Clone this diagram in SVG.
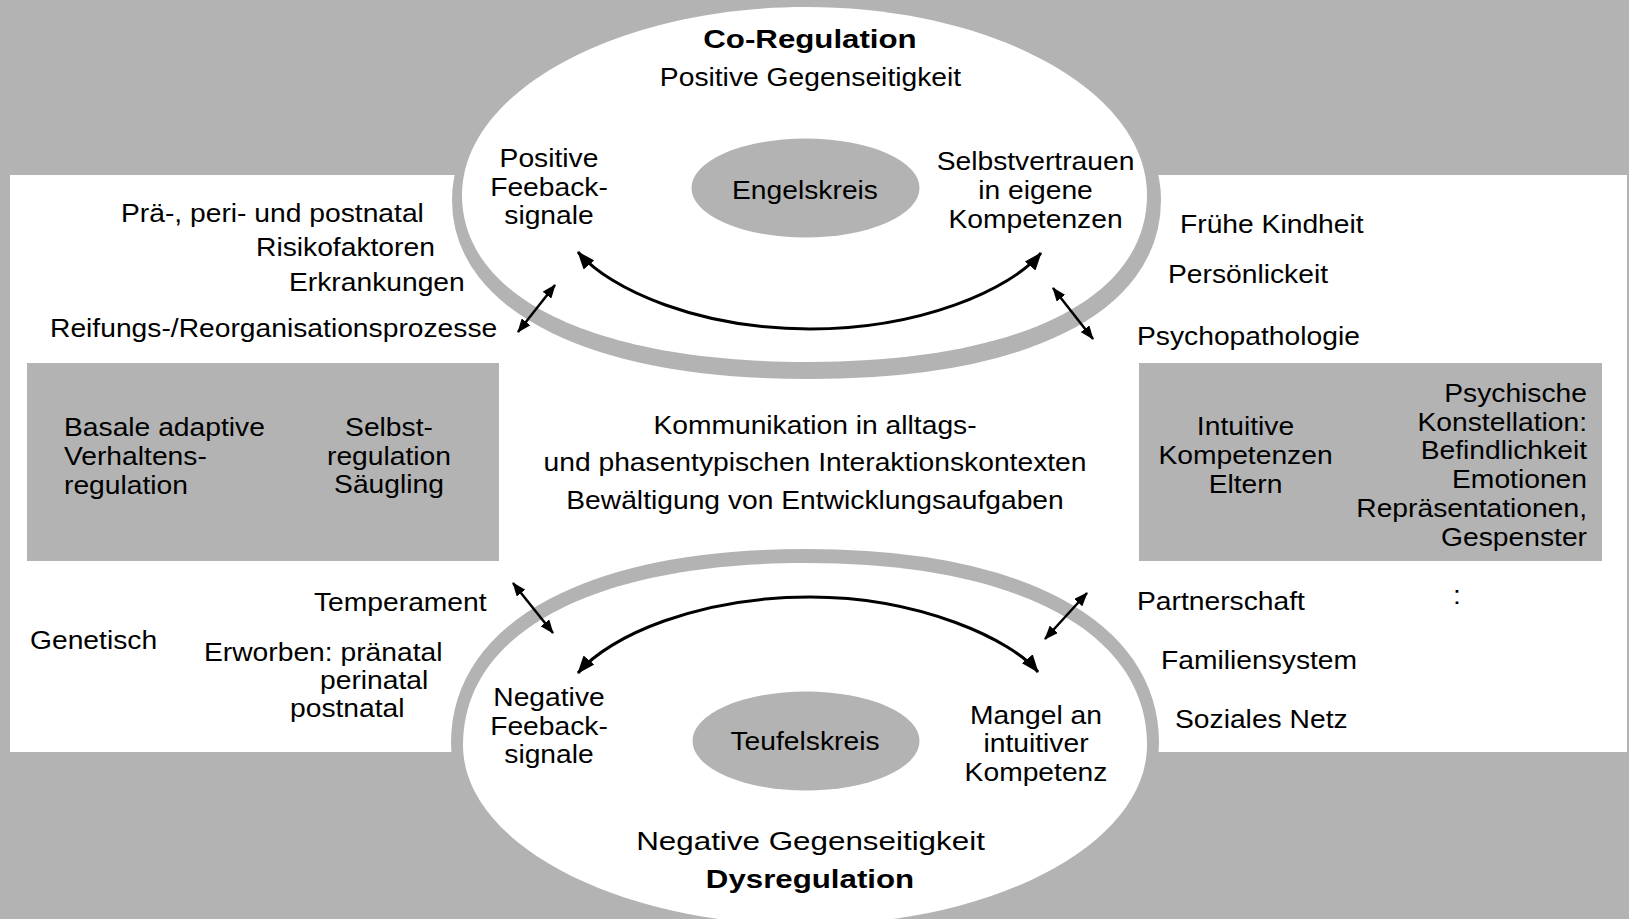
<svg xmlns="http://www.w3.org/2000/svg" xmlns:xlink="http://www.w3.org/1999/xlink" width="1629" height="919" viewBox="0 0 1629 919">
<style>
.t{font-family:"Liberation Sans",Arial,sans-serif;font-size:25px;fill:#000}
.b{font-weight:bold}
.shadow{fill:#b3b3b3;stroke:#b3b3b3;stroke-width:24}
.white{fill:#fff}
.gray{fill:#b3b3b3}
.conn{fill:none;stroke:#000}
</style>
<defs>
<path id="upShape" d="M806,7 C994,7 1147,91 1147,195 C1147,298.5 1020,362 808,362 C596,362 462,298.5 462,195 C462,91 618,7 806,7 Z"/>
<path id="lowShape" d="M806,563 C1018,563 1147,632 1147,745 C1147,844 994,925 806,925 C618,925 463,844 463,745 C463,632 594,563 806,563 Z"/>
<marker id="ah" viewBox="0 0 18 14" markerWidth="18" markerHeight="14" refX="17" refY="7" orient="auto-start-reverse" markerUnits="userSpaceOnUse"><path d="M0,0 L18,7 L0,14 z"/></marker>
<marker id="ahs" viewBox="0 0 14 11" markerWidth="14" markerHeight="11" refX="13" refY="5.5" orient="auto-start-reverse" markerUnits="userSpaceOnUse"><path d="M0,0 L14,5.5 L0,11 z"/></marker>
</defs>
<g id="background">
<rect width="1629" height="919" class="gray"/>
<rect x="10" y="175" width="1617" height="577" fill="#fff"/>
</g>
<g id="left-box">
<rect x="27" y="363" width="472" height="198" class="gray"/>
<text class="t" transform="translate(64 436) scale(1.13 1)"><tspan x="0" y="0">Basale adaptive</tspan><tspan x="0" y="29">Verhaltens-</tspan><tspan x="0" y="58">regulation</tspan></text>
<text class="t" text-anchor="middle" transform="translate(389 436) scale(1.13 1)"><tspan x="0" y="0">Selbst-</tspan><tspan x="0" y="29">regulation</tspan><tspan x="0" y="57">Säugling</tspan></text>
</g>
<g id="right-box">
<rect x="1139" y="363" width="463" height="198" class="gray"/>
<text class="t" text-anchor="middle" transform="translate(1245.5 435) scale(1.13 1)"><tspan x="0" y="0">Intuitive</tspan><tspan x="0" y="29">Kompetenzen</tspan><tspan x="0" y="58">Eltern</tspan></text>
<text class="t" text-anchor="end" transform="translate(1587 402) scale(1.13 1)"><tspan x="0" y="0">Psychische</tspan><tspan x="0" y="29">Konstellation:</tspan><tspan x="0" y="57">Befindlichkeit</tspan><tspan x="0" y="86">Emotionen</tspan><tspan x="0" y="115">Repräsentationen,</tspan><tspan x="0" y="144">Gespenster</tspan></text>
</g>
<g id="co-regulation">
<use xlink:href="#upShape" href="#upShape" class="shadow" transform="translate(2 5)"/>
<use xlink:href="#upShape" href="#upShape" class="white"/>
<text class="t b" text-anchor="middle" transform="translate(810 48) scale(1.25 1)">Co-Regulation</text>
<text class="t" text-anchor="middle" transform="translate(810.5 86) scale(1.13 1)">Positive Gegenseitigkeit</text>
</g>
<g id="dysregulation">
<use xlink:href="#lowShape" href="#lowShape" class="shadow" transform="translate(0 -2)"/>
<use xlink:href="#lowShape" href="#lowShape" class="white"/>
<text class="t" text-anchor="middle" transform="translate(810.5 850) scale(1.255 1)">Negative Gegenseitigkeit</text>
<text class="t b" text-anchor="middle" transform="translate(810 888) scale(1.25 1)">Dysregulation</text>
</g>
<g id="engelskreis">
<ellipse cx="805.5" cy="188" rx="114" ry="49.5" class="gray"/>
<text class="t" text-anchor="middle" transform="translate(805 199) scale(1.13 1)">Engelskreis</text>
</g>
<g id="teufelskreis">
<ellipse cx="806" cy="741" rx="113.5" ry="49.5" class="gray"/>
<text class="t" text-anchor="middle" transform="translate(805 750) scale(1.13 1)">Teufelskreis</text>
</g>
<g id="positive-feedback">
<text class="t" text-anchor="middle" transform="translate(549 167) scale(1.13 1)"><tspan x="0" y="0">Positive</tspan><tspan x="0" y="29">Feeback-</tspan><tspan x="0" y="57">signale</tspan></text>
</g>
<g id="selbstvertrauen">
<text class="t" text-anchor="middle" transform="translate(1035.5 170) scale(1.13 1)"><tspan x="0" y="0">Selbstvertrauen</tspan><tspan x="0" y="29">in eigene</tspan><tspan x="0" y="58">Kompetenzen</tspan></text>
</g>
<g id="negative-feedback">
<text class="t" text-anchor="middle" transform="translate(549 706) scale(1.13 1)"><tspan x="0" y="0">Negative</tspan><tspan x="0" y="29">Feeback-</tspan><tspan x="0" y="57">signale</tspan></text>
</g>
<g id="mangel">
<text class="t" text-anchor="middle" transform="translate(1036 724) scale(1.13 1)"><tspan x="0" y="0">Mangel an</tspan><tspan x="0" y="28">intuitiver</tspan><tspan x="0" y="57">Kompetenz</tspan></text>
</g>
<g id="kommunikation">
<text class="t" text-anchor="middle" transform="translate(815 434) scale(1.13 1)"><tspan x="0" y="0">Kommunikation in alltags-</tspan><tspan x="0" y="37">und phasentypischen Interaktionskontexten</tspan><tspan x="0" y="75">Bewältigung von Entwicklungsaufgaben</tspan></text>
</g>
<g id="risiken-kind">
<text class="t" transform="translate(121 222) scale(1.13 1)">Prä-, peri- und postnatal</text>
<text class="t" transform="translate(256 256) scale(1.13 1)">Risikofaktoren</text>
<text class="t" transform="translate(289 291) scale(1.13 1)">Erkrankungen</text>
<text class="t" transform="translate(50 337) scale(1.13 1)">Reifungs-/Reorganisationsprozesse</text>
</g>
<g id="eltern-faktoren">
<text class="t" transform="translate(1180 233) scale(1.13 1)">Frühe Kindheit</text>
<text class="t" transform="translate(1168 283) scale(1.13 1)">Persönlickeit</text>
<text class="t" transform="translate(1137 345) scale(1.13 1)">Psychopathologie</text>
</g>
<g id="temperament">
<text class="t" transform="translate(314 610.5) scale(1.13 1)">Temperament</text>
<text class="t" transform="translate(30 649) scale(1.13 1)">Genetisch</text>
<text class="t" transform="translate(204 660.5) scale(1.13 1)">Erworben: pränatal</text>
<text class="t" transform="translate(320 689) scale(1.13 1)">perinatal</text>
<text class="t" transform="translate(290 717) scale(1.13 1)">postnatal</text>
</g>
<g id="kontext">
<text class="t" transform="translate(1137 610) scale(1.13 1)">Partnerschaft</text>
<text class="t" transform="translate(1453 604) scale(1.13 1)">:</text>
<text class="t" transform="translate(1161 669) scale(1.13 1)">Familiensystem</text>
<text class="t" transform="translate(1175 728) scale(1.13 1)">Soziales Netz</text>
</g>
<g id="connectors">
<path class="conn" stroke-width="3" d="M578,252 C610,290 700,329 810,329 C920,329 1010,290 1041,253" marker-start="url(#ah)" marker-end="url(#ah)"/>
<path class="conn" stroke-width="3" d="M578,673 C610,635 700,597 810,597 C920,597 1012,640 1038,672" marker-start="url(#ah)" marker-end="url(#ah)"/>
<path class="conn" stroke-width="2.5" d="M518,332 L555,285" marker-start="url(#ahs)" marker-end="url(#ahs)"/>
<path class="conn" stroke-width="2.5" d="M1053,288 L1093,339" marker-start="url(#ahs)" marker-end="url(#ahs)"/>
<path class="conn" stroke-width="2.5" d="M513,583 L553,633" marker-start="url(#ahs)" marker-end="url(#ahs)"/>
<path class="conn" stroke-width="2.5" d="M1087,593 L1045,639" marker-start="url(#ahs)" marker-end="url(#ahs)"/>
</g>
</svg>
